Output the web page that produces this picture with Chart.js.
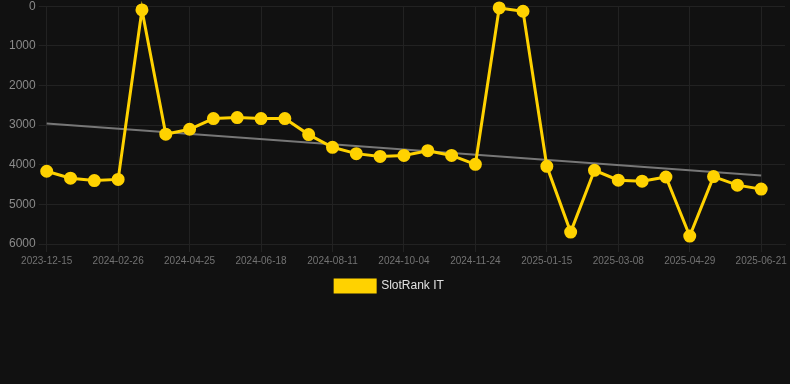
<!DOCTYPE html>
<html>
<head>
<meta charset="utf-8">
<script src="https://cdn.jsdelivr.net/npm/chart.js@4"></script>
<style>
  html, body { margin: 0; padding: 0; background: #111111; overflow: hidden; width: 790px; height: 384px; }
  #wrap { position: absolute; left: 0; top: -4px; width: 793px; height: 306px; }
</style>
</head>
<body>
<div id="wrap"><canvas id="c"></canvas></div>
<script>
const categories = [
  '2023-12-15','2024-01-08','2024-02-01','2024-02-26','2024-03-16','2024-04-06',
  '2024-04-25','2024-05-13','2024-05-31','2024-06-18','2024-07-06','2024-07-24',
  '2024-08-11','2024-08-29','2024-09-16','2024-10-04','2024-10-21','2024-11-07',
  '2024-11-24','2024-12-11','2024-12-28','2025-01-15','2025-02-01','2025-02-18',
  '2025-03-08','2025-03-25','2025-04-11','2025-04-29','2025-05-16','2025-06-03',
  '2025-06-21','2025-07-08'
];
const rankValues = [
  4165, 4340, 4400, 4370, 95, 3230,
  3105, 2835, 2810, 2835, 2835, 3240,
  3560, 3720, 3790, 3765, 3645, 3765,
  3990, 43, 127, 4040, 5700, 4140,
  4390, 4415, 4310, 5800, 4300, 4515,
  4615, null
];
const trendValues = [
  2960, null, null, null, null, null, null, null, null, null,
  null, null, null, null, null, null, null, null, null, null,
  null, null, null, null, null, null, null, null, null, null,
  4270, null
];
const yTicks = [0, 1000, 2000, 3000, 4000, 5000, 6000];
const seriesName = 'SlotRank IT';

const legendShift = {
  id: 'legendShift',
  afterLayout(chart) {
    if (chart.legend) { chart.legend.left -= 10; chart.legend.right -= 10; }
  }
};

new Chart(document.getElementById('c'), {
  type: 'line',
  data: {
    labels: categories,
    datasets: [
      {
        label: seriesName,
        data: rankValues,
        borderColor: '#FFD200',
        backgroundColor: '#FFD200',
        borderWidth: 3,
        pointRadius: 5,
        pointHoverRadius: 5,
        pointBackgroundColor: '#FFD200',
        pointBorderColor: '#FFD200',
        tension: 0,
        clip: false,
        order: 1
      },
      {
        label: 'trend',
        data: trendValues,
        borderColor: '#777777',
        backgroundColor: '#777777',
        borderWidth: 2,
        pointRadius: 0,
        spanGaps: true,
        tension: 0,
        order: 2
      }
    ]
  },
  plugins: [legendShift],
  options: {
    responsive: true,
    maintainAspectRatio: false,
    animation: false,
    layout: { padding: { left: 6, right: 0, top: 0, bottom: 0 } },
    scales: {
      x: {
        grid: { color: '#222222' },
        border: { color: '#222222' },
        ticks: {
          color: '#737373',
          font: { family: 'Liberation Sans, Arial, sans-serif', size: 10 },
          maxRotation: 0,
          autoSkip: true,
          maxTicksLimit: 11
        }
      },
      y: {
        reverse: true,
        min: 0,
        max: 6000,
        afterBuildTicks: (axis) => { axis.ticks = yTicks.map(v => ({ value: v })); },
        grid: { color: '#222222' },
        border: { color: '#222222' },
        ticks: {
          color: '#8a8a8a',
          font: { family: 'Liberation Sans, Arial, sans-serif', size: 12 },
          callback: (v) => String(v)
        }
      }
    },
    plugins: {
      legend: {
        position: 'bottom',
        labels: {
          color: '#e0e0e0',
          font: { family: 'Liberation Sans, Arial, sans-serif', size: 12 },
          filter: (item) => item.text === seriesName
        }
      },
      tooltip: { enabled: false }
    }
  }
});
</script>
</body>
</html>
